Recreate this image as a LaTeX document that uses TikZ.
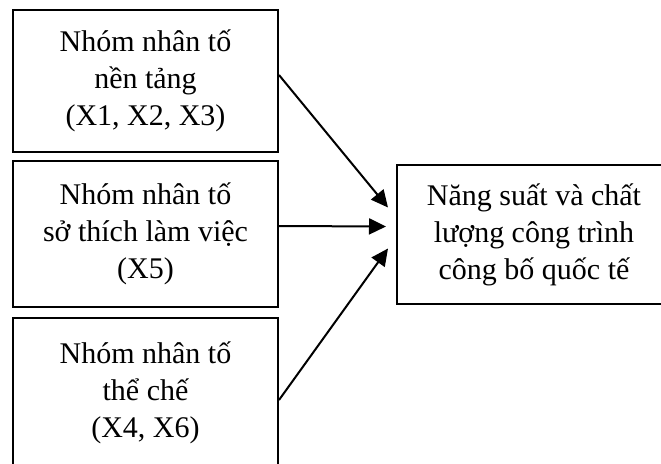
\documentclass[tikz,border=0pt]{standalone}
\usepackage{fontspec}
\setmainfont{Liberation Serif}
\usetikzlibrary{arrows.meta}

\begin{document}
\begin{tikzpicture}[x=1pt, y=1pt,
    factor/.style={draw, line width=2pt, align=center, inner sep=0pt,
      minimum width=265pt, font=\fontsize{30}{37}\selectfont},
    link/.style={line width=2pt, -{Triangle[length=17pt,width=16pt]}}]
      \clip (0,0) rectangle (661,-463);
      \node[factor, minimum height=142pt] (g1) at (145.5,-81)
        {Nhóm nhân tố\\nền tảng\\(X1, X2, X3)};
      \node[factor, minimum height=146pt] (g2) at (145.5,-234)
        {Nhóm nhân tố\\sở thích làm việc\\(X5)};
      \node[factor, minimum height=150pt] (g3) at (145.5,-393)
        {Nhóm nhân tố\\thể chế\\(X4, X6)};
      \node[factor, minimum width=274pt, minimum height=139pt] (out)
        at (534,-234.5)
        {Năng suất và chất\\lượng công trình\\công bố quốc tế};
      \coordinate (t1) at ([xshift=-8pt, yshift=27pt]out.west);
      \coordinate (t2) at ([xshift=-10pt, yshift=8pt]out.west);
      \coordinate (t3) at ([xshift=-8pt, yshift=-14pt]out.west);
      \draw[link] ([yshift=6pt]g1.east) -- (t1);
      \draw[link] ([yshift=8pt]g2.east) -- (t2);
      \draw[link] ([yshift=-7pt]g3.east) -- (t3);
    \end{tikzpicture}
\end{document}
